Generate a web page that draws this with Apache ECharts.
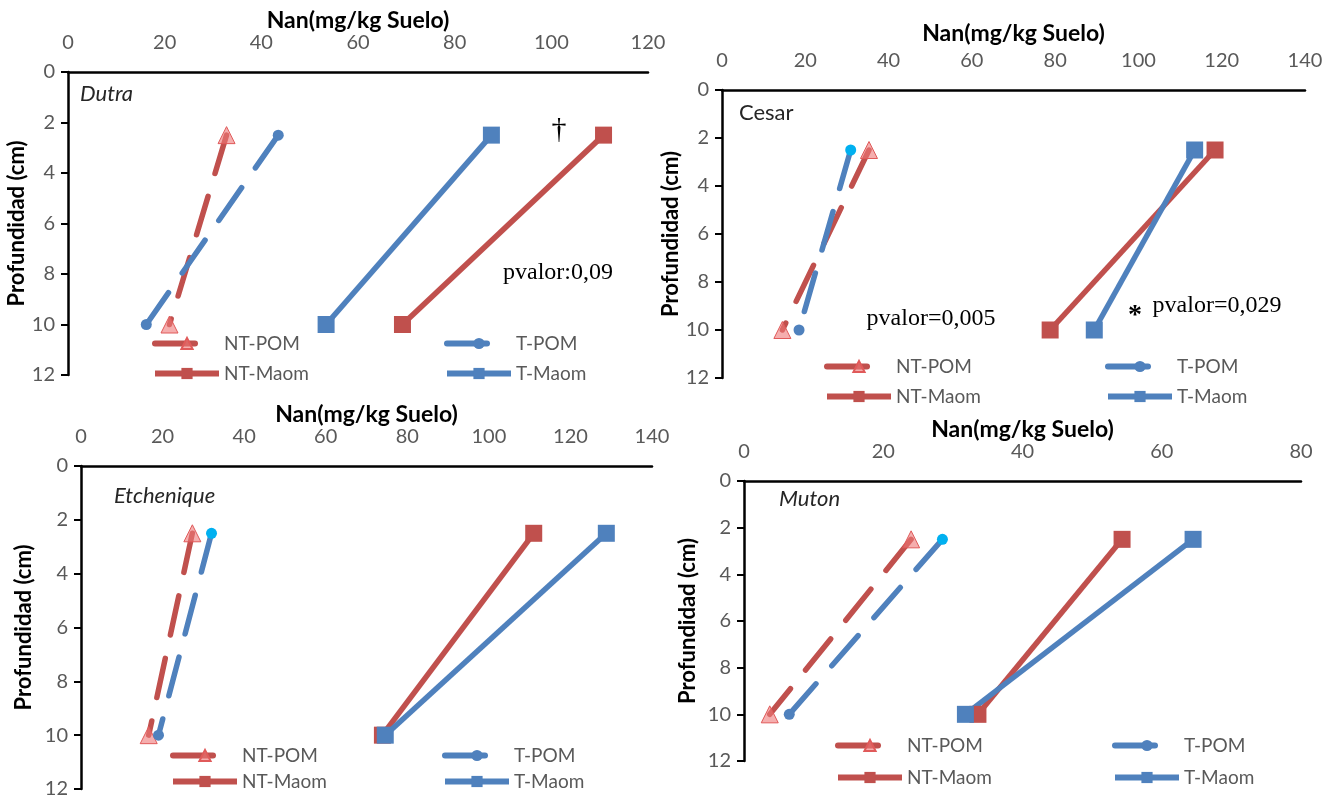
<!DOCTYPE html>
<html>
<head>
<meta charset="utf-8">
<script src="https://cdn.jsdelivr.net/npm/echarts@6/dist/echarts.min.js"></script>
<style>
  html, body { margin: 0; background: #fff; }
  #chart { width: 1335px; height: 799px; }
</style>
</head>
<body>
<div id="chart"></div>
<script>
// data, one row per site (value at 2.5 cm, value at 10 cm)
const sites = ["Dutra", "Cesar", "Etchenique", "Muton"];
const depths = [2.5, 10];
const xMax = [120, 140, 140, 80];
const ntPom = [[32.8, 21.0], [35.3, 14.5], [27.3, 16.6], [24.0, 3.7]];
const tPom = [[43.5, 16.2], [30.9, 18.5], [32.0, 19.0], [28.5, 6.5]];
const ntMaom = [[110.8, 69.2], [118.4, 78.8], [111.0, 73.9], [54.3, 33.6]];
const tMaom = [[87.6, 53.4], [113.5, 89.4], [128.8, 74.6], [64.5, 31.8]];

// layout of the four panels (pixels)
const panels = [
  { left: 68, top: 72, width: 580, height: 303, xGap: 38, yGap: 37, legX: [152, 444], legY: [345, 375], italic: true, cyanTop: false, label: [80, 94] },
  { left: 722, top: 90, width: 583, height: 288, xGap: 45, yGap: 40, legX: [824, 1105], legY: [368, 398], italic: false, cyanTop: true, label: [739, 113] },
  { left: 81, top: 466, width: 571, height: 326, xGap: 37, yGap: 46, legX: [170, 442], legY: [757, 783], italic: true, cyanTop: true, label: [114, 496] },
  { left: 744, top: 481, width: 557, height: 280, xGap: 38, yGap: 45, legX: [835, 1112], legY: [747, 779], italic: true, cyanTop: true, label: [779, 499] }
];

const RED = "#C0504D";
const BLUE = "#4F81BD";
const FONT = "Lato";
const SERIF = "Liberation Serif";

const chart = echarts.init(document.getElementById("chart"));

const grid = [], xAxis = [], yAxis = [], series = [], legend = [];

panels.forEach((p, i) => {
  grid.push({ left: p.left, top: p.top, width: p.width, height: p.height });
  xAxis.push({
    type: "value", gridIndex: i, position: "top",
    min: 0, max: xMax[i], interval: 20,
    name: "Nan(mg/kg Suelo)", nameLocation: "middle", nameGap: p.xGap,
    nameTextStyle: { fontFamily: FONT, fontWeight: "bold", fontSize: 23, color: "#000" },
    axisLine: { show: true, onZero: false, lineStyle: { color: "#000", width: 2.5 } },
    axisTick: { show: false },
    axisLabel: { margin: 19, fontFamily: FONT, fontSize: 20, color: "#595959" },
    splitLine: { show: false }
  });
  yAxis.push({
    type: "value", gridIndex: i, inverse: true,
    min: 0, max: 12, interval: 2,
    name: "Profundidad (cm)", nameLocation: "middle", nameGap: p.yGap,
    nameTextStyle: { fontFamily: FONT, fontWeight: "bold", fontSize: 22, color: "#000" },
    axisLine: { show: true, onZero: false, lineStyle: { color: "#000", width: 2.5 } },
    axisTick: { show: true, length: 7, lineStyle: { color: "#000", width: 2 } },
    axisLabel: { margin: 13, fontFamily: FONT, fontSize: 20, color: "#595959" },
    splitLine: { show: false }
  });

  const pts = (vals) => vals.map((v, k) => [v, depths[k]]);

  series.push({
    type: "line", name: "NT-POM", xAxisIndex: i, yAxisIndex: i, data: pts(ntPom[i]),
    symbol: "triangle", symbolSize: 17,
    lineStyle: { color: RED, width: 5.5, type: [40, 24], cap: "round" },
    itemStyle: { color: "rgba(238,120,120,0.6)", borderColor: "#E05A5A", borderWidth: 1 },
    animation: false
  });
  const tPomData = pts(tPom[i]);
  if (p.cyanTop) tPomData[0] = { value: tPomData[0], itemStyle: { color: "#00B0F0" } };
  series.push({
    type: "line", name: "T-POM", xAxisIndex: i, yAxisIndex: i, data: tPomData,
    symbol: "circle", symbolSize: 11,
    lineStyle: { color: BLUE, width: 5.5, type: [40, 24], cap: "round" },
    itemStyle: { color: BLUE },
    animation: false
  });
  series.push({
    type: "line", name: "NT-Maom", xAxisIndex: i, yAxisIndex: i, data: pts(ntMaom[i]),
    symbol: "rect", symbolSize: 17,
    lineStyle: { color: RED, width: 5.5 },
    itemStyle: { color: RED },
    animation: false
  });
  series.push({
    type: "line", name: "T-Maom", xAxisIndex: i, yAxisIndex: i, data: pts(tMaom[i]),
    symbol: "rect", symbolSize: 17,
    lineStyle: { color: BLUE, width: 5.5 },
    itemStyle: { color: BLUE },
    animation: false
  });

  const names = [["NT-POM", "T-POM"], ["NT-Maom", "T-Maom"]];
  names.forEach((row, r) => {
    row.forEach((n, c) => {
      legend.push({
        data: [n], left: p.legX[c], top: p.legY[r] - 11, padding: 0,
        itemWidth: 64, itemHeight: 14, selectedMode: false,
        lineStyle: { width: 6 },
        textStyle: { fontFamily: FONT, fontSize: 19, color: "#595959" }
      });
    });
  });
});

// site names and significance notes
const txt = (x, y, text, style) => ({
  type: "text", x, y,
  style: Object.assign({ text, fill: "#262626", fontFamily: FONT, fontSize: 22, verticalAlign: "middle" }, style)
});

const graphic = [];
sites.forEach((s, i) => {
  const p = panels[i];
  graphic.push(txt(p.label[0], p.label[1], s, { fontStyle: p.italic ? "italic" : "normal" }));
});
graphic.push(txt(559, 130, "\u2020", { fontFamily: SERIF, fontSize: 30, align: "center", fill: "#000" }));
graphic.push(txt(558, 273, "pvalor:0,09", { fontFamily: SERIF, fontSize: 24, align: "center", fill: "#000" }));
graphic.push(txt(931, 319, "pvalor=0,005", { fontFamily: SERIF, fontSize: 24, align: "center", fill: "#000" }));
graphic.push(txt(1135, 316, "*", { fontFamily: SERIF, fontSize: 28, fontWeight: "bold", align: "center", fill: "#000" }));
graphic.push(txt(1217, 306, "pvalor=0,029", { fontFamily: SERIF, fontSize: 24, align: "center", fill: "#000" }));

chart.setOption({
  backgroundColor: "#fff",
  animation: false,
  grid, xAxis, yAxis, series, legend, graphic
});
</script>
</body>
</html>
